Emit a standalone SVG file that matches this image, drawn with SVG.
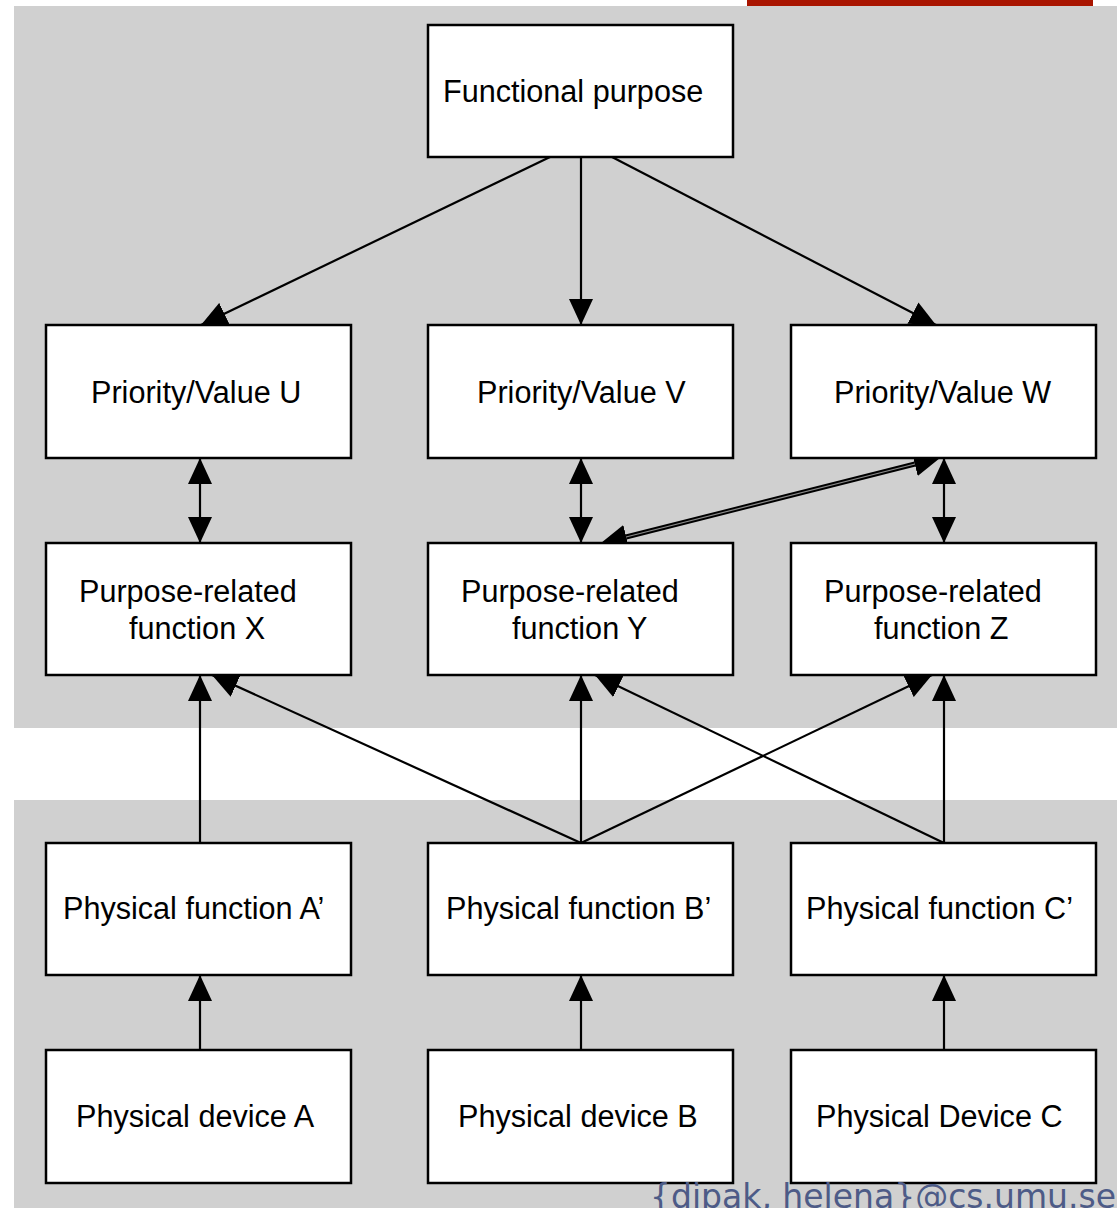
<svg xmlns="http://www.w3.org/2000/svg" width="1117" height="1208" viewBox="0 0 1117 1208">
  <style>
    .box { fill: #ffffff; stroke: #000000; stroke-width: 2.5; }
    .lbl { font-family: "Liberation Sans", Arial, sans-serif; font-size: 30.6px; fill: #000000; }
    .ln { stroke: #000000; stroke-width: 2.2; fill: none; }
    .end { marker-end: url(#head); }
    .both { marker-start: url(#headRev); marker-end: url(#head); }
    .band { fill: #d0d0d0; }
  </style>
  <defs>
    <marker id="head" viewBox="0 0 26 24" refX="26" refY="12" markerWidth="26" markerHeight="24" markerUnits="userSpaceOnUse" orient="auto">
      <path d="M0,0 L26,12 L0,24 Z" fill="#000000"/>
    </marker>
    <marker id="headRev" viewBox="0 0 26 24" refX="0" refY="12" markerWidth="26" markerHeight="24" markerUnits="userSpaceOnUse" orient="auto">
      <path d="M26,0 L0,12 L26,24 Z" fill="#000000"/>
    </marker>
  </defs>

  <!-- background bands and header bar -->
  <rect x="747" y="0" width="346" height="6" fill="#a91500"/>
  <rect class="band" x="14" y="6" width="1103" height="722"/>
  <rect class="band" x="14" y="800" width="1103" height="408"/>

  <!-- connectors -->
  <g id="connectors">
    <line class="ln end" x1="550" y1="157" x2="201" y2="325"/>
    <line class="ln end" x1="581" y1="157" x2="581" y2="325"/>
    <line class="ln end" x1="612" y1="157" x2="936" y2="325"/>

    <line class="ln both" x1="200" y1="458" x2="200" y2="543"/>
    <line class="ln both" x1="581" y1="458" x2="581" y2="543"/>
    <line class="ln both" x1="944" y1="458" x2="944" y2="543"/>

    <!-- double line between Y and W -->
    <line stroke="#000" stroke-width="5" x1="626" y1="537" x2="915" y2="464"/>
    <line stroke="#8a8a8a" stroke-width="1.2" x1="626" y1="537" x2="915" y2="464"/>
    <line class="ln both" stroke-opacity="0" x1="601" y1="543" x2="940" y2="458"/>

    <line class="ln end" x1="200" y1="843" x2="200" y2="675"/>
    <line class="ln end" x1="581" y1="843" x2="212" y2="675"/>
    <line class="ln end" x1="581" y1="843" x2="581" y2="675"/>
    <line class="ln end" x1="581" y1="843" x2="932" y2="675"/>
    <line class="ln end" x1="944" y1="843" x2="595" y2="675"/>
    <line class="ln end" x1="944" y1="843" x2="944" y2="675"/>

    <line class="ln end" x1="200" y1="1050" x2="200" y2="975"/>
    <line class="ln end" x1="581" y1="1050" x2="581" y2="975"/>
    <line class="ln end" x1="944" y1="1050" x2="944" y2="975"/>
  </g>

  <g id="functional-purpose">
    <rect class="box" x="428" y="25" width="305" height="132"/>
    <text class="lbl" x="443" y="102">Functional purpose</text>
  </g>

  <g id="priority-u">
    <rect class="box" x="46" y="325" width="305" height="133"/>
    <text class="lbl" x="91" y="403">Priority/Value U</text>
  </g>
  <g id="priority-v">
    <rect class="box" x="428" y="325" width="305" height="133"/>
    <text class="lbl" x="477" y="403">Priority/Value V</text>
  </g>
  <g id="priority-w">
    <rect class="box" x="791" y="325" width="305" height="133"/>
    <text class="lbl" x="834" y="403">Priority/Value W</text>
  </g>

  <g id="function-x">
    <rect class="box" x="46" y="543" width="305" height="132"/>
    <text class="lbl" x="79" y="602">Purpose-related</text>
    <text class="lbl" x="129" y="639">function X</text>
  </g>
  <g id="function-y">
    <rect class="box" x="428" y="543" width="305" height="132"/>
    <text class="lbl" x="461" y="602">Purpose-related</text>
    <text class="lbl" x="512" y="639">function Y</text>
  </g>
  <g id="function-z">
    <rect class="box" x="791" y="543" width="305" height="132"/>
    <text class="lbl" x="824" y="602">Purpose-related</text>
    <text class="lbl" x="874" y="639">function Z</text>
  </g>

  <g id="physical-function-a">
    <rect class="box" x="46" y="843" width="305" height="132"/>
    <text class="lbl" x="63" y="919">Physical function A’</text>
  </g>
  <g id="physical-function-b">
    <rect class="box" x="428" y="843" width="305" height="132"/>
    <text class="lbl" x="446" y="919">Physical function B’</text>
  </g>
  <g id="physical-function-c">
    <rect class="box" x="791" y="843" width="305" height="132"/>
    <text class="lbl" x="806" y="919">Physical function C’</text>
  </g>

  <g id="physical-device-a">
    <rect class="box" x="46" y="1050" width="305" height="133"/>
    <text class="lbl" x="76" y="1127">Physical device A</text>
  </g>
  <g id="physical-device-b">
    <rect class="box" x="428" y="1050" width="305" height="133"/>
    <text class="lbl" x="458" y="1127">Physical device B</text>
  </g>
  <g id="physical-device-c">
    <rect class="box" x="791" y="1050" width="305" height="133"/>
    <text class="lbl" x="816" y="1127">Physical Device C</text>
  </g>

  <!-- contact footer -->
  <text x="650" y="1208" font-family="'DejaVu Sans', sans-serif" font-size="33" fill="#4d5b87">{dipak, helena}@cs.umu.se</text>
</svg>
